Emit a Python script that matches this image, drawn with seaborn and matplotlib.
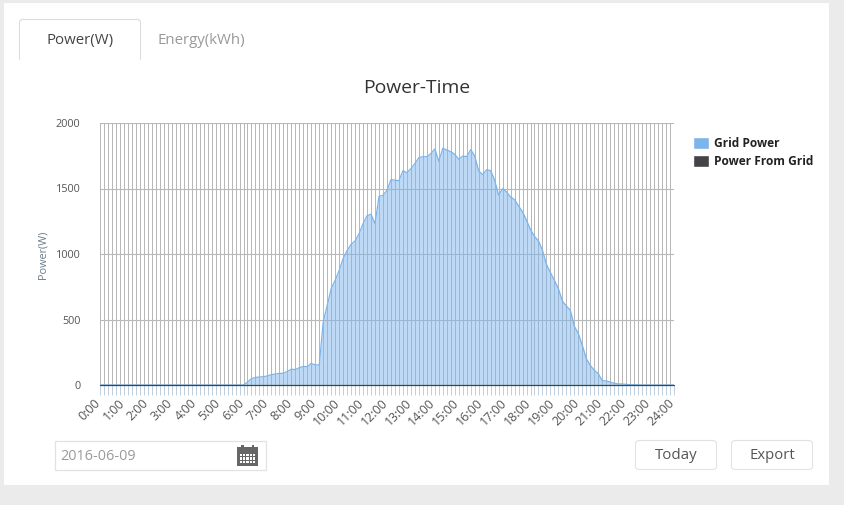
"""Power-Time dashboard panel: daily grid power in 10 minute steps."""

import numpy as np
import pandas as pd
import matplotlib
matplotlib.use("Agg")
import matplotlib.pyplot as plt
import seaborn as sns
from matplotlib.patches import FancyBboxPatch, Patch, Rectangle
from matplotlib.transforms import IdentityTransform, ScaledTranslation

hour_labels = ["%d:00" % h for h in range(25)]

# one value per 10 minutes, 0:00 to 24:00
grid_power = [
    0, 0, 0, 0, 0, 0, 0, 0, 0, 0, 0, 0,
    0, 0, 0, 0, 0, 0, 0, 0, 0, 0, 0, 0,
    0, 0, 0, 0, 0, 0, 0, 0, 0, 0, 0, 0,
    0, 23, 48, 58, 61, 64, 69, 79, 84, 89, 89, 104,
    120, 118, 132, 142, 140, 165, 153, 153, 481, 608, 735, 800,
    875, 965, 1028, 1074, 1100, 1155, 1232, 1293, 1303, 1232, 1440, 1448,
    1486, 1568, 1563, 1560, 1636, 1621, 1652, 1690, 1736, 1743, 1743, 1766,
    1802, 1708, 1807, 1794, 1781, 1761, 1723, 1748, 1743, 1797, 1748, 1634,
    1606, 1644, 1636, 1563, 1450, 1499, 1474, 1435, 1415, 1367, 1321, 1257,
    1186, 1135, 1100, 1028, 921, 858, 799, 735, 641, 603, 570, 448,
    392, 303, 201, 150, 112, 87, 33, 31, 23, 13, 8, 8,
    5, 2, 2, 1, 0, 0, 0, 0, 0, 0, 0, 0,
    0,
]
power_from_grid = [0] * len(grid_power)

y_ticks = [0, 500, 1000, 1500, 2000]

W, H = 844, 505
FONT = "Open Sans"
BLUE = "#7cb5ec"
DARK = "#434348"

sns.set_theme(style="white")
plt.rcParams["font.family"] = [FONT, "DejaVu Sans"]

df = pd.DataFrame({
    "step": np.arange(len(grid_power)),
    "Grid Power": grid_power,
    "Power From Grid": power_from_grid,
})

fig = plt.figure(figsize=(W / 100, H / 100), dpi=100, facecolor="#ebebeb")


def fx(px):
    return px / W


def fy(py):
    return 1 - py / H


def box(x0, y0, x1, y1, face="white", edge="none", lw=0.0, round_px=0.0, z=1):
    # page furniture, given in screen pixels
    if round_px:
        p = FancyBboxPatch((x0, H - y1), x1 - x0, y1 - y0,
                           boxstyle="round,pad=0,rounding_size=%g" % round_px,
                           facecolor=face, edgecolor=edge, linewidth=lw,
                           transform=pix, zorder=z)
    else:
        p = Rectangle((x0, H - y1), x1 - x0, y1 - y0, facecolor=face,
                      edgecolor=edge, linewidth=lw, transform=pix, zorder=z)
    fig.add_artist(p)


pix = IdentityTransform()

# white card and tabs
box(4, 3, 829, 485)
box(19, 59.5, 815, 60.2, face="#dddddd", z=2)
box(19.5, 19.5, 140.5, 70, face="white", edge="#dddddd", lw=0.8, round_px=3, z=2)
box(18, 60.3, 142, 72, face="white", z=3)
fig.text(fx(80), fy(40.5), "Power(W)", fontsize=10.8, color="#444444", ha="center", va="center", zorder=4)
fig.text(fx(201.5), fy(40.5), "Energy(kWh)", fontsize=10.8, color="#999999", ha="center", va="center", zorder=4)

fig.text(fx(416.5), fy(88.5), "Power-Time", fontsize=13.9, color="#333333", ha="center", va="center", zorder=4)

# chart
ax = fig.add_axes([fx(100), fy(385), 574 / W, (385 - 123) / H], zorder=5)
ax.set_facecolor("none")
ax.set_axisbelow(True)
ax.fill_between(df["step"], df["Grid Power"], 0, color=BLUE, alpha=0.5, linewidth=0, zorder=2)
sns.lineplot(data=df, x="step", y="Grid Power", ax=ax, color=BLUE, linewidth=0.9, zorder=3, legend=False)
sns.lineplot(data=df, x="step", y="Power From Grid", ax=ax, color=DARK, linewidth=0.9, alpha=1.0,
             zorder=4, legend=False, clip_on=False)

ax.set_xlim(0, len(grid_power) - 1)
ax.set_ylim(0, 2000)
ax.set_xticks(df["step"], minor=True)
ax.set_xticks(df["step"][::6])
ax.set_xticklabels(hour_labels, rotation=45, ha="right", rotation_mode="anchor",
                   fontsize=9, color="#555555")
ax.set_yticks(y_ticks)
ax.set_yticklabels([str(v) for v in y_ticks], fontsize=7.8, color="#555555")
ax.tick_params(axis="x", which="both", length=7, width=0.72, color="#c0d0e0", bottom=True, pad=1)
ax.tick_params(axis="y", length=0, pad=14)
# labels end a little left of their tick
shift = ScaledTranslation(-6 / 100, 0, fig.dpi_scale_trans)
for lab in ax.get_xticklabels():
    lab.set_transform(lab.get_transform() + shift)
ax.grid(True, axis="x", which="both", color="#b8b8b8", linewidth=0.72, zorder=1)
ax.grid(True, axis="y", color="#b8b8b8", linewidth=0.8, zorder=1)
for side in ax.spines.values():
    side.set_visible(False)
ax.set_xlabel("")
ax.set_ylabel("")
fig.text(fx(43), fy(255), "Power(W)", fontsize=7.8, color="#6d7a8c", rotation=90, ha="center", va="center", zorder=4)

handles = [Patch(facecolor=BLUE, label="Grid Power"), Patch(facecolor=DARK, label="Power From Grid")]
leg = fig.legend(handles=handles, loc="upper left", bbox_to_anchor=(fx(687), fy(131)), frameon=False,
                 prop={"family": FONT, "weight": "bold", "size": 8.6}, labelcolor="#222222",
                 handlelength=1.35, handleheight=1.15, handletextpad=0.4, labelspacing=0.42, borderpad=0.5,
                 borderaxespad=0)
leg.set_zorder(6)

# date box with calendar icon
box(55, 440.5, 266, 469.5, edge="#e2e2e2", lw=0.9)
fig.text(fx(60), fy(456.5), "2016-06-09", fontsize=10.4, color="#9a9a9a", ha="left", va="center", zorder=4)
box(237, 447, 258, 466, face="#666666", z=2)
box(241, 445, 243.5, 449, face="#666666", z=3)
box(251.5, 445, 254, 449, face="#666666", z=3)
for col in range(5):
    for row in range(3):
        box(240 + col * 3.2, 453.5 + row * 3.6, 242.2 + col * 3.2, 456 + row * 3.6, face="white", z=3)

# buttons
box(635.5, 440.5, 716.5, 469.5, edge="#e2e2e2", lw=0.8, round_px=4)
fig.text(fx(676.5), fy(455.5), "Today", fontsize=10.8, color="#555555", ha="center", va="center", zorder=4)
box(731.5, 440.5, 812.5, 469.5, edge="#e2e2e2", lw=0.8, round_px=4)
fig.text(fx(772.5), fy(455.5), "Export", fontsize=10.7, color="#555555", ha="center", va="center", zorder=4)

fig.savefig("out.png", dpi=100, facecolor=fig.get_facecolor())
